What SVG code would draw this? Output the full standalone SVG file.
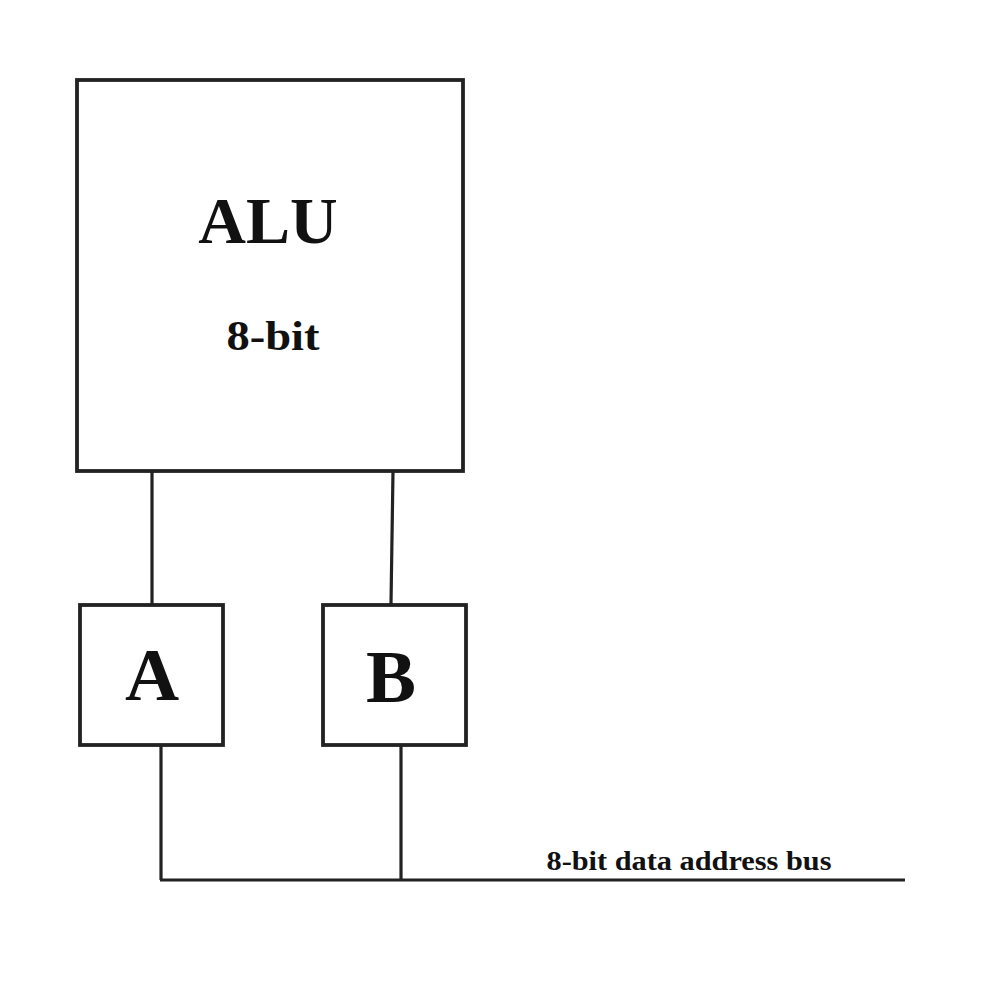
<svg xmlns="http://www.w3.org/2000/svg" width="1000" height="1000" viewBox="0 0 1000 1000">
<style>
.box{fill:#fff;stroke:#222;stroke-width:3.8}
.wire{fill:none;stroke:#222;stroke-width:3.2}
.t{font-family:"Liberation Serif","DejaVu Serif",serif;font-weight:bold;fill:#111;text-anchor:middle}
</style>
<rect width="1000" height="1000" fill="#fff"/>
<g id="connectors">
<line class="wire" x1="152" y1="471" x2="152" y2="604"/>
<line class="wire" x1="393" y1="471" x2="391" y2="604"/>
<line class="wire" x1="161" y1="745" x2="161" y2="880"/>
<line class="wire" x1="401" y1="745" x2="401" y2="880"/>
<line class="wire" x1="160" y1="880" x2="905" y2="880" stroke-width="3.6"/>
</g>
<g id="alu">
<rect class="box" x="77" y="80" width="386" height="391"/>
<text class="t" x="268" y="243" font-size="66">ALU</text>
<text class="t" x="273" y="350" font-size="42" textLength="93" lengthAdjust="spacingAndGlyphs">8-bit</text>
</g>
<g id="regA">
<rect class="box" x="80" y="605" width="143" height="140"/>
<text class="t" x="152" y="700" font-size="75">A</text>
</g>
<g id="regB">
<rect class="box" x="323" y="605" width="143" height="140"/>
<text class="t" x="391" y="702" font-size="75">B</text>
</g>
<g id="bus-label">
<text class="t" x="689" y="870" font-size="27" textLength="285" lengthAdjust="spacingAndGlyphs">8-bit data address bus</text>
</g>
</svg>
